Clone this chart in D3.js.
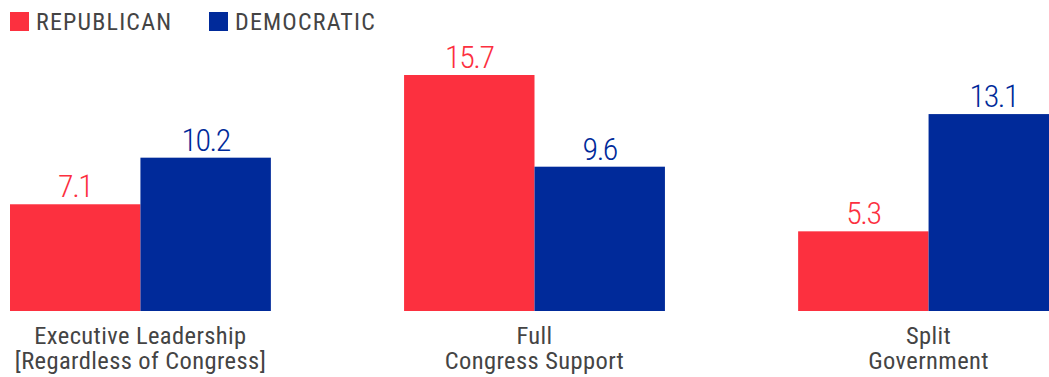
<!DOCTYPE html>
<html>
<head>
<meta charset="utf-8">
<script src="https://cdn.jsdelivr.net/npm/d3@7"></script>
<style>
  html, body { margin: 0; padding: 0; background: #fff; }
  svg { display: block; }
  .f { font-family: 'Roboto Condensed', 'Liberation Sans Narrow', 'Arial Narrow', Roboto, sans-serif; }
</style>
</head>
<body>
<svg id="chart" width="1049" height="377"></svg>
<script>
const categories = [["Executive Leadership", "[Regardless of Congress]"], ["Full", "Congress Support"], ["Split", "Government"]];
const seriesNames = ["REPUBLICAN", "DEMOCRATIC"];
const republican = [7.1, 15.7, 5.3];
const democratic = [10.2, 9.6, 13.1];
const colors = ["#FC303F", "#002A9A"];

const W = 1049, H = 377;
const svg = d3.select("#chart");
const baseline = 311;

const x0 = d3.scaleBand().domain(d3.range(categories.length)).range([10, 1059]).paddingInner(0.338).paddingOuter(0);
const x1 = d3.scaleBand().domain([0, 1]).range([0, x0.bandwidth()]).padding(0);
const y = d3.scaleLinear().domain([0, 15.7]).range([baseline, 75]);

const series = [republican, democratic];

const g = svg.append("g");
categories.forEach((cat, i) => {
  const gg = g.append("g").attr("transform", `translate(${x0(i)},0)`);
  series.forEach((vals, s) => {
    gg.append("rect")
      .attr("x", x1(s))
      .attr("y", y(vals[i]))
      .attr("width", x1.bandwidth())
      .attr("height", baseline - y(vals[i]))
      .attr("fill", colors[s]);
    gg.append("text")
      .attr("class", "f")
      .attr("x", x1(s) + x1.bandwidth() / 2)
      .attr("y", y(vals[i]) - 7)
      .attr("text-anchor", "middle")
      .attr("font-size", 32)
      .attr("font-weight", 300)
      .attr("letter-spacing", -1.5)
      .attr("fill", colors[s])
      .text(vals[i].toFixed(1));
  });
  const t = gg.append("text")
    .attr("class", "f")
    .attr("x", x0.bandwidth() / 2)
    .attr("y", 344)
    .attr("text-anchor", "middle")
    .attr("font-size", 24.5)
    .attr("font-weight", 400)
    .attr("letter-spacing", 0.4)
    .attr("fill", "#444");
  cat.forEach((line, k) => {
    t.append("tspan").attr("x", x0.bandwidth() / 2).attr("dy", k === 0 ? 0 : 25).text(line);
  });
});

// legend
const legendX = [10, 209];
seriesNames.forEach((name, s) => {
  const lg = svg.append("g").attr("transform", `translate(${legendX[s]},12)`);
  lg.append("rect").attr("width", 19).attr("height", 19).attr("fill", colors[s]);
  lg.append("text").attr("class", "f").attr("x", 26).attr("y", 18)
    .attr("font-size", 24).attr("font-weight", 400).attr("letter-spacing", 1.2).attr("fill", "#444").text(name);
});
</script>
</body>
</html>
